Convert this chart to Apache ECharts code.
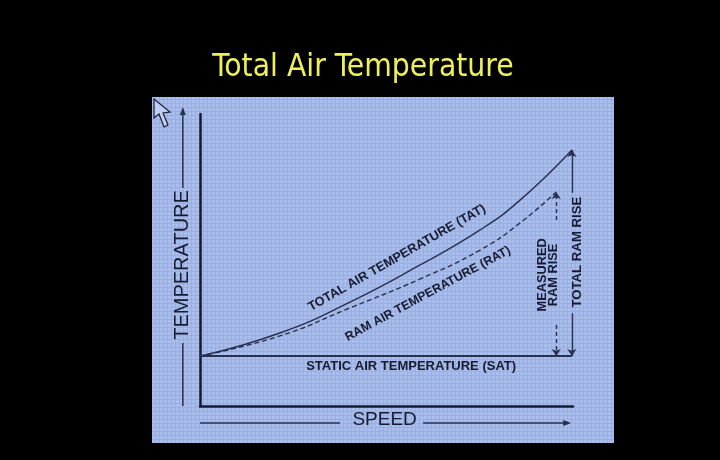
<!DOCTYPE html>
<html><head><meta charset="utf-8">
<script src="https://cdn.jsdelivr.net/npm/echarts@6/dist/echarts.min.js"></script>
<style>html,body{margin:0;padding:0;background:#000;}#c{width:720px;height:460px;}</style>
</head><body><div id="c"></div>
<script>
// ---- data (x = speed, y = temperature, arbitrary units 0..100) ----
const speedTAT = [0, 21.4, 40.2, 59.0, 75.1, 85.8, 99.7];
const tempTAT  = [17.1, 25.0, 35.6, 48.3, 60.3, 70.5, 87.7];
const speedRAT = [0, 21.4, 40.2, 59.0, 75.1, 85.8, 95.5];
const tempRAT  = [17.1, 24.0, 33.6, 43.5, 53.4, 62.7, 73.3];
const speedSAT = [0, 99.7];
const tempSAT  = [17.1, 17.1];
const titleText = 'Total Air Temperature';
const axisNames = ['SPEED', 'TEMPERATURE'];
const curveNames = ['TOTAL AIR TEMPERATURE (TAT)', 'RAM AIR TEMPERATURE (RAT)', 'STATIC AIR TEMPERATURE (SAT)'];
const riseNames = ['MEASURED\nRAM RISE', 'TOTAL RAM RISE'];

const INK = '#161b30';
const LINE = '#283050';
const PANEL = '#a9bdec';
const FONT = '"Liberation Sans", Arial, sans-serif';

const chart = echarts.init(document.getElementById('c'));
const pairs = (xs, ys) => xs.map((x, i) => [x, ys[i]]);

const tatEnd = tempTAT[tempTAT.length - 1];
const ratEnd = tempRAT[tempRAT.length - 1];
const sat = tempSAT[0];
const xTotal = speedTAT[speedTAT.length - 1];
const xMeas = speedRAT[speedRAT.length - 1];

function seg(x, y0, y1, dashed) {
  return [
    { coord: [x, y0], symbol: 'none' },
    { coord: [x, y1], symbol: 'arrow', lineStyle: { color: LINE, width: 1.4, type: dashed ? [4, 3] : 'solid' } }
  ];
}

const axisCommon = {
  type: 'value', min: 0, max: 100,
  axisLine: { show: true, onZero: false, lineStyle: { color: INK, width: 2.5 } },
  axisTick: { show: false }, axisLabel: { show: false }, splitLine: { show: false }
};

chart.setOption({
  backgroundColor: '#000',
  animation: false,
  grid: { left: 200, top: 114, right: 147, bottom: 54 },
  xAxis: axisCommon,
  yAxis: axisCommon,
  series: [
    { type: 'line', name: 'TAT', data: pairs(speedTAT, tempTAT), smooth: 0.5,
      symbol: 'none', lineStyle: { color: LINE, width: 1.4 }, z: 3 },
    { type: 'line', name: 'RAT', data: pairs(speedRAT, tempRAT), smooth: 0.5,
      symbol: 'none', lineStyle: { color: LINE, width: 1.4, type: [5, 3] }, z: 3 },
    { type: 'line', name: 'SAT', data: pairs(speedSAT, tempSAT), symbol: 'none',
      lineStyle: { color: LINE, width: 2 }, z: 3,
      markLine: {
        silent: true, symbolSize: 7, label: { show: false },
        lineStyle: { color: LINE, width: 1.4 },
        data: [
          seg(xTotal, 31.8, sat, false), seg(xTotal, 73, tatEnd, false),
          seg(xMeas, 27.7, sat, true), seg(xMeas, 63.7, ratEnd, true)
        ]
      } }
  ]
});

const P = (x, y) => chart.convertToPixel({ gridIndex: 0 }, [x, y]);
const deg = d => d * Math.PI / 180;

// subtle canvas texture
const pc = document.createElement('canvas'); pc.width = 4; pc.height = 4;
const g = pc.getContext('2d');
g.fillStyle = PANEL; g.fillRect(0, 0, 4, 4);
g.fillStyle = 'rgba(60,80,150,0.13)'; g.fillRect(0, 3, 4, 1); g.fillRect(3, 0, 1, 3);
g.fillStyle = 'rgba(255,255,255,0.08)'; g.fillRect(1, 1, 1, 1);

function text(str, p, rotDeg, size, weight, extra) {
  return {
    type: 'text', x: p[0], y: p[1], rotation: deg(rotDeg), z: 20,
    style: Object.assign({ text: str, fill: INK, font: (weight || 'normal') + ' ' + size + 'px ' + FONT, align: 'center', verticalAlign: 'middle' }, extra || {})
  };
}
function line(a, b) {
  return { type: 'line', z: 20, shape: { x1: a[0], y1: a[1], x2: b[0], y2: b[1] }, style: { stroke: LINE, lineWidth: 1.5 } };
}
function head(tip, dir) { // dir: 'up' or 'right'
  const pts = dir === 'up'
    ? [[tip[0], tip[1]], [tip[0] - 3, tip[1] + 8], [tip[0] + 3, tip[1] + 8]]
    : [[tip[0], tip[1]], [tip[0] - 8, tip[1] - 3], [tip[0] - 8, tip[1] + 3]];
  return { type: 'polygon', z: 20, shape: { points: pts }, style: { fill: LINE } };
}

const xT = -4.6, ySp = -5.8;
const graphics = [
  { type: 'rect', z: -10, shape: { x: 152, y: 97, width: 462, height: 346 }, style: { fill: PANEL } },
  { type: 'rect', z: -9, shape: { x: 152, y: 97, width: 462, height: 346 }, style: { fill: { image: pc, repeat: 'repeat' } } },
  { type: 'text', x: 363, y: 68, z: 20, style: { text: titleText, fill: '#eef05a', font: '31.5px "DejaVu Sans Condensed", "DejaVu Sans", sans-serif', align: 'center', verticalAlign: 'middle' } },
  // axis names with arrows
  text(axisNames[1], P(xT, 48.3), 90, 20),
  line(P(xT, 0), P(xT, 21.6)), line(P(xT, 74.7), P(xT, 101.5)), head(P(xT, 102.4), 'up'),
  text(axisNames[0], P(49.5, -4.8), 0, 19),
  line(P(0, ySp), P(37.5, ySp)), line(P(59.8, ySp), P(98.7, ySp)), head(P(99.5, ySp), 'right'),
  // curve labels
  text(curveNames[0], P(52.8, 50.7), 29.8, 12.8, 'bold'),
  text(curveNames[1], P(61.1, 38.4), 28.4, 12.4, 'bold'),
  text(curveNames[2], P(56.6, 13.4), 0, 13, 'bold'),
  text(riseNames[0], P(93.3, 44.9), 90, 12.8, 'bold', { lineHeight: 10.5 }),
  text(riseNames[1], P(101.2, 52.7), 90, 13.2, 'bold'),
  // mouse cursor from the screen capture
  { type: 'polygon', z: 20, shape: { points: [[154, 99], [154, 118], [159, 114], [164, 127], [168, 125], [163, 113], [170, 112]] },
    style: { fill: 'rgba(220,230,250,0.5)', stroke: '#1a1f30', lineWidth: 1.2 } }
];
chart.setOption({ graphic: { elements: graphics } });
</script></body></html>
